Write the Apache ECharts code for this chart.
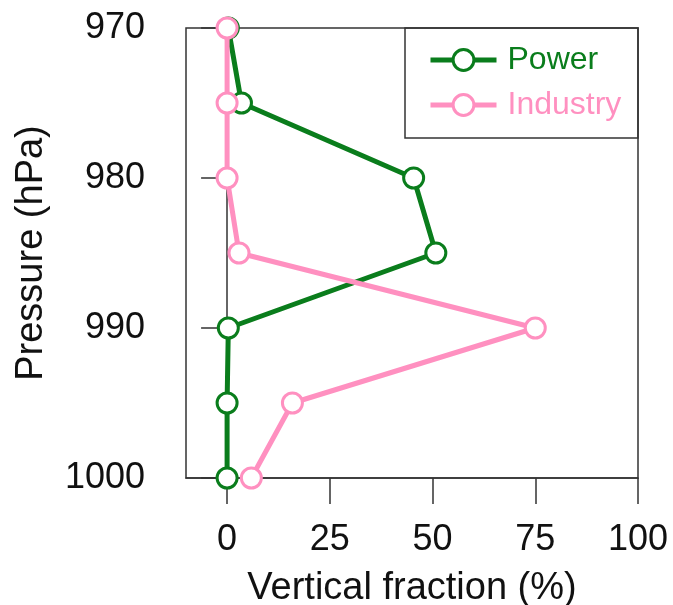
<!DOCTYPE html>
<html>
<head>
<meta charset="utf-8">
<script src="https://cdn.jsdelivr.net/npm/echarts@6/dist/echarts.min.js"></script>
<style>html,body{margin:0;padding:0;background:#fff}#c{width:673px;height:605px}</style>
</head>
<body>
<div id="c"></div>
<script>
const pressure = [970, 975, 980, 985, 990, 995, 1000];
const power = [0.3, 3.5, 45.4, 50.8, 0.3, 0, 0];
const industry = [0, 0, 0, 2.9, 75, 15.9, 5.9];
const xTicks = [0, 25, 50, 75, 100];
const yTicks = [970, 980, 990, 1000];

const green = '#0a7d1c';
const pink = '#ff90c0';
const axisColor = '#333';
const font = 'Liberation Sans, Arial, Helvetica, sans-serif';

const chart = echarts.init(document.getElementById('c'));
chart.setOption({
  animation: false,
  backgroundColor: '#fff',
  grid: { left: 186, top: 28, right: 35, bottom: 127, show: true, borderColor: axisColor, borderWidth: 1.5, backgroundColor: 'transparent', outerBoundsMode: 'none', containLabel: false },
  xAxis: {
    type: 'value', min: -10, max: 100,
    name: 'Vertical fraction (%)', nameLocation: 'middle', nameGap: 92,
    nameTextStyle: { fontSize: 38, color: '#111', fontFamily: font },
    axisLine: { show: true, lineStyle: { color: axisColor, width: 1.5 } },
    axisTick: { show: true, length: 26, inside: false, customValues: xTicks, lineStyle: { color: axisColor, width: 1.5 } },
    axisLabel: { customValues: xTicks, fontSize: 36, color: '#111', margin: 44, fontFamily: font },
    splitLine: { show: false }
  },
  yAxis: {
    type: 'value', min: 970, max: 1000, interval: 10, inverse: true,
    name: 'Pressure (hPa)', nameLocation: 'middle', nameGap: 135,
    nameTextStyle: { fontSize: 38, color: '#111', fontFamily: font },
    axisLine: { show: true, lineStyle: { color: axisColor, width: 1.5 } },
    axisTick: { show: true, length: 26, inside: false, lineStyle: { color: axisColor, width: 1.5 } },
    axisLabel: { fontSize: 36, color: '#111', margin: 41, fontFamily: font, formatter: v => String(v) },
    splitLine: { show: false }
  },
  legend: {
    orient: 'vertical', left: 423, top: 39,
    itemWidth: 66, itemHeight: 26, itemGap: 13,
    data: [
      { name: 'Power', textStyle: { color: green } },
      { name: 'Industry', textStyle: { color: pink } }
    ],
    lineStyle: { width: 5 },
    itemStyle: { borderWidth: 3 },
    textStyle: { fontSize: 32, fontFamily: font, padding: [0, 0, 0, 6] }
  },
  graphic: [{
    type: 'rect', shape: { x: 405, y: 28, width: 233, height: 110 },
    style: { fill: 'none', stroke: axisColor, lineWidth: 1.5 }, z: 10
  }],
  series: [
    {
      name: 'Power', type: 'line',
      data: pressure.map((p, i) => [power[i], p]),
      symbol: 'circle', symbolSize: 20,
      lineStyle: { color: green, width: 5 },
      itemStyle: { color: '#fff', borderColor: green, borderWidth: 3 },
      z: 2
    },
    {
      name: 'Industry', type: 'line',
      data: pressure.map((p, i) => [industry[i], p]),
      symbol: 'circle', symbolSize: 20,
      lineStyle: { color: pink, width: 5 },
      itemStyle: { color: '#fff', borderColor: pink, borderWidth: 3 },
      z: 3
    }
  ]
});
</script>
</body>
</html>
